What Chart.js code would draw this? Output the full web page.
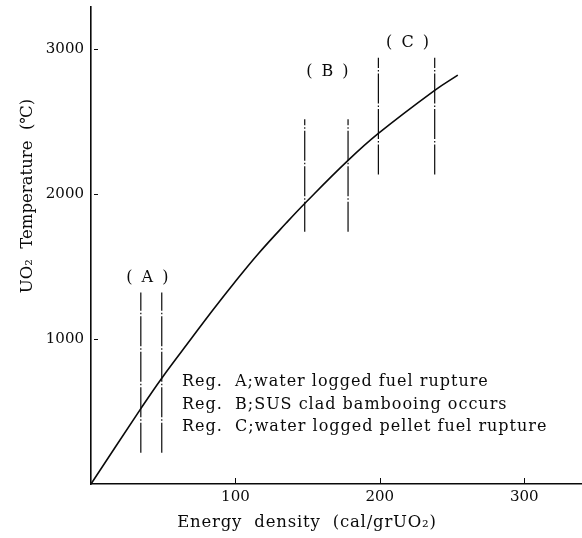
<!DOCTYPE html>
<html>
<head>
<meta charset="utf-8">
<script src="https://cdn.jsdelivr.net/npm/chart.js@4.4.1/dist/chart.umd.min.js"></script>
<style>
  body { margin: 0; background: #fff; }
  #wrap { width: 582px; height: 538px; }
</style>
</head>
<body>
<div id="wrap"><canvas id="lineChart"></canvas></div>
<script>
// curve
const energy = [0, 34.5, 49, 70, 84, 99, 116, 135, 149, 178, 199, 238, 254];
const temperature = [0, 520, 730, 1010, 1195, 1385, 1590, 1798, 1945, 2232, 2418, 2715, 2820];

// regions (dash-dot vertical lines)
const regionNames = ['A', 'B', 'C'];
const regionLeft = [34.5, 148, 199];
const regionRight = [49, 178, 238];
const regionLow = [215, 1740, 2135];
const regionHigh = [1320, 2515, 2940];
const regionLabelY = [1420, 2840, 3040];

const xTicks = [100, 200, 300];
const yTicks = [1000, 2000, 3000];

const notes = [
  'Reg.  A;water logged fuel rupture',
  'Reg.  B;SUS clad bambooing occurs',
  'Reg.  C;water logged pellet fuel rupture'
];
const xTitle = 'Energy  density  (cal/grUO\u2082)';
const yTitle = 'UO\u2082  Temperature  (\u2103)';

const ink = '#0a0a0a';
const serif = '"DejaVu Serif", "Liberation Serif", serif';

const datasets = [{
  data: energy.map((e, i) => ({ x: e, y: temperature[i] })),
  borderColor: ink,
  borderWidth: 1.6,
  pointRadius: 0,
  tension: 0.4,
  fill: false
}];
regionNames.forEach((n, i) => {
  [regionLeft[i], regionRight[i]].forEach(xv => {
    datasets.push({
      data: [{ x: xv, y: regionLow[i] }, { x: xv, y: regionHigh[i] }],
      borderColor: ink,
      borderWidth: 1.2,
      borderDash: [30, 2, 1.5, 2],
      pointRadius: 0,
      fill: false
    });
  });
});

const extras = {
  id: 'extras',
  afterDatasetsDraw(chart) {
    const { ctx, scales: { x, y }, chartArea } = chart;
    ctx.save();
    ctx.strokeStyle = ink;
    ctx.fillStyle = ink;
    ctx.lineWidth = 1;
    // inward tick marks
    yTicks.forEach(v => {
      const py = Math.round(y.getPixelForValue(v)) + 0.5;
      ctx.beginPath();
      ctx.moveTo(chartArea.left + 3, py);
      ctx.lineTo(chartArea.left + 7, py);
      ctx.stroke();
    });
    xTicks.forEach(v => {
      const px = Math.round(x.getPixelForValue(v)) + 0.5;
      ctx.beginPath();
      ctx.moveTo(px, chartArea.bottom - 1);
      ctx.lineTo(px, chartArea.bottom - 6);
      ctx.stroke();
    });

    // region labels
    ctx.font = '16px ' + serif;
    ctx.textAlign = 'center';
    ctx.textBaseline = 'middle';
    ctx.letterSpacing = '2px';
    regionNames.forEach((n, i) => {
      const px = x.getPixelForValue((regionLeft[i] + regionRight[i]) / 2);
      const py = y.getPixelForValue(regionLabelY[i]);
      ctx.fillText('( ' + n + ' )', px + (i === 0 ? -3 : 2), py);
    });

    // notes
    ctx.textAlign = 'left';
    ctx.letterSpacing = '1px';
    notes.forEach((t, i) => ctx.fillText(t, 182, 382 + i * 22.5));

    // axis titles
    ctx.font = '16.5px ' + serif;
    ctx.textAlign = 'center';
    ctx.letterSpacing = '0.8px';
    ctx.fillText(xTitle, 307, 523);
    ctx.letterSpacing = '0px';
    ctx.translate(28, 196);
    ctx.rotate(-Math.PI / 2);
    ctx.fillText(yTitle, 0, 0);
    ctx.restore();
  }
};

new Chart(document.getElementById('lineChart'), {
  type: 'line',
  data: { datasets: datasets },
  options: {
    responsive: true,
    maintainAspectRatio: false,
    animation: false,
    layout: { padding: { top: 7, right: 0, left: 0, bottom: 0 } },
    plugins: { legend: { display: false }, tooltip: { enabled: false } },
    scales: {
      x: {
        type: 'linear',
        min: 0,
        max: 340,
        afterBuildTicks: s => { s.ticks = xTicks.map(v => ({ value: v })); },
        afterFit: s => { s.height = 54; s.paddingLeft = 0; s.paddingRight = 0; },
        grid: { drawOnChartArea: false, drawTicks: false },
        border: { display: true, color: ink, width: 1.6 },
        ticks: { padding: 4, color: ink, font: { family: serif, size: 15 }, maxRotation: 0, callback: v => String(v) }
      },
      y: {
        type: 'linear',
        min: 0,
        max: 3290,
        afterBuildTicks: s => { s.ticks = yTicks.map(v => ({ value: v })); },
        afterFit: s => { s.width = 91; s.paddingTop = 0; s.paddingBottom = 0; },
        grid: { drawOnChartArea: false, drawTicks: false },
        border: { display: true, color: ink, width: 1.6 },
        ticks: { padding: 7, color: ink, font: { family: serif, size: 15 }, callback: v => String(v) }
      }
    }
  },
  plugins: [extras]
});
</script>
</body>
</html>
